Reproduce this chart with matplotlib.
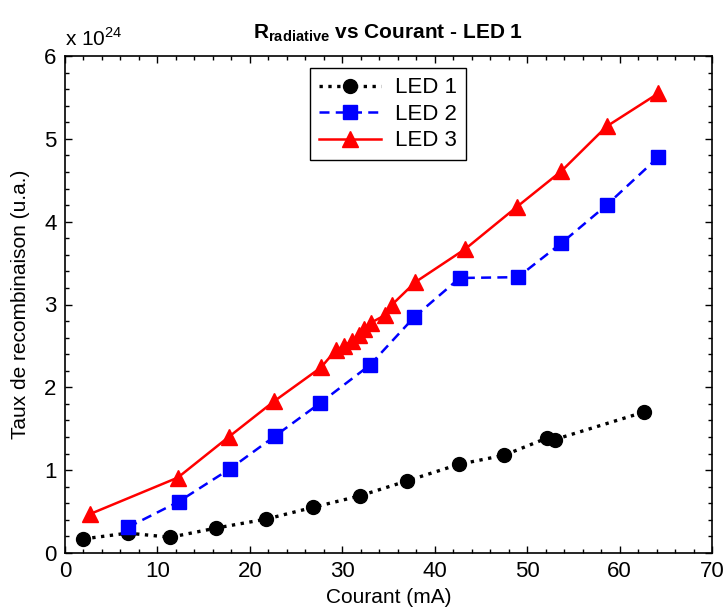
import matplotlib
matplotlib.use("Agg")
import matplotlib.pyplot as plt
from matplotlib.ticker import MultipleLocator

plt.rcParams['font.family'] = ['Liberation Sans', 'DejaVu Sans']

# Data (y in units of 1e24)
led1_x = [2.0, 6.8, 11.4, 16.3, 21.8, 26.8, 31.9, 37.0, 42.6, 47.5, 52.2, 53.0, 62.6]
led1_y = [0.17, 0.24, 0.19, 0.30, 0.41, 0.55, 0.69, 0.87, 1.07, 1.18, 1.39, 1.37, 1.70]

led2_x = [6.8, 12.3, 17.9, 22.7, 27.6, 33.0, 37.8, 42.7, 49.0, 53.7, 58.6, 64.2]
led2_y = [0.31, 0.62, 1.02, 1.41, 1.81, 2.27, 2.85, 3.32, 3.33, 3.74, 4.20, 4.78]

led3_x = [2.7, 12.2, 17.7, 22.6, 27.7, 29.3, 30.2, 31.0, 31.8, 32.4, 33.1, 34.6, 35.4,
          37.9, 43.3, 48.9, 53.7, 58.6, 64.2]
led3_y = [0.47, 0.91, 1.40, 1.83, 2.24, 2.45, 2.50, 2.56, 2.63, 2.71, 2.78, 2.87, 3.00,
          3.27, 3.67, 4.18, 4.61, 5.15, 5.55]

labels = ['LED 1', 'LED 2', 'LED 3']

fig = plt.figure(figsize=(7.24, 6.16), dpi=100)
ax = fig.add_axes([65/724, 1-553/616, (712-65)/724, (553-56)/616])

ax.plot(led1_x, led1_y, color='black', linestyle=':', linewidth=2.4, marker='o',
        markersize=10, label=labels[0])
ax.plot(led2_x, led2_y, color='#0000ff', linestyle='--', linewidth=1.8, marker='s',
        markersize=10, dashes=(4, 2.5), label=labels[1])
ax.plot(led3_x, led3_y, color='#ff0000', linestyle='-', linewidth=1.8, marker='^',
        markersize=12, label=labels[2])

ax.set_xlim(0, 70)
ax.set_ylim(0, 6)
ax.xaxis.set_major_locator(MultipleLocator(10))
ax.xaxis.set_minor_locator(MultipleLocator(2))
ax.yaxis.set_major_locator(MultipleLocator(1))
ax.yaxis.set_minor_locator(MultipleLocator(0.2))
ax.tick_params(which='both', direction='in', top=True, right=True, labelsize=16, width=1)
ax.tick_params(which='major', length=5, pad=6)
ax.tick_params(which='minor', length=3)
for s in ax.spines.values():
    s.set_linewidth(1.2)

ax.set_xlabel('Courant (mA)', fontsize=15, labelpad=4)
ax.set_ylabel('Taux de recombinaison (u.a.)', fontsize=15, labelpad=10)
ax.set_title(r'R$_{\mathregular{radiative}}$ vs Courant - LED 1', fontsize=15,
             fontweight='bold', pad=13)
ax.text(0.0, 1.012, r'x 10$^{\mathregular{24}}$', transform=ax.transAxes, fontsize=15,
        ha='left', va='bottom')

leg = ax.legend(loc='upper left', bbox_to_anchor=(0.379, 0.975), fontsize=16,
                fancybox=False, framealpha=1, edgecolor='black', handlelength=2.8,
                borderaxespad=0, labelspacing=0.25, handletextpad=0.6)
leg.get_frame().set_linewidth(1)

fig.savefig('out.png', dpi=100)
